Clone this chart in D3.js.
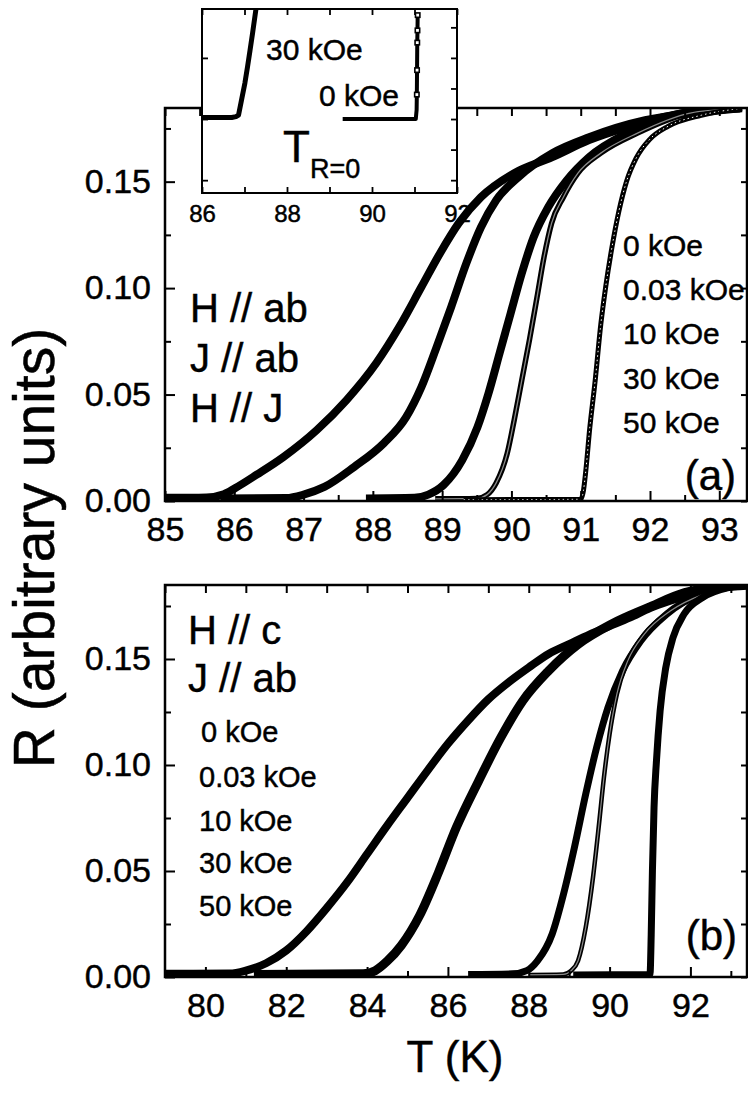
<!DOCTYPE html>
<html><head><meta charset="utf-8">
<script src="https://cdn.jsdelivr.net/npm/d3@7"></script>
<style>
html,body{margin:0;padding:0;background:#fff;}
svg{display:block;font-family:"Liberation Sans",Arial,Helvetica,sans-serif;}
</style></head><body>
<svg id="fig" width="748" height="1094"></svg>
<script>
// ---- Panel (a): H // ab, J // ab, H // J  — [T (K), R]
const fieldLabels = ["0 kOe", "0.03 kOe", "10 kOe", "30 kOe", "50 kOe"];

const a50 = [[85.0,0.0015],[85.6,0.0017],[85.85,0.0032],[86.01,0.0060],[86.33,0.0125],[86.71,0.0207],[87.19,0.0333],[87.62,0.0474],[88.05,0.0648],[88.38,0.0817],[88.70,0.1005],[88.97,0.1164],[89.24,0.1305],[89.56,0.1427],[90.04,0.1540],[90.59,0.1615],[91.12,0.1695],[91.67,0.1756],[92.47,0.1822],[93.33,0.1845]];
const a30 = [[85.8,0.0012],[86.75,0.0014],[87.0,0.0030],[87.30,0.0066],[87.73,0.0160],[88.16,0.0272],[88.48,0.0394],[88.70,0.0535],[88.92,0.0723],[89.13,0.0911],[89.35,0.1117],[89.56,0.1286],[89.78,0.1413],[90.10,0.1521],[90.59,0.1634],[91.12,0.1709],[91.93,0.1789],[92.74,0.1826],[93.3,0.1845]];
const a10 = [[87.9,0.0012],[88.6,0.0015],[88.8,0.0030],[89.02,0.0075],[89.29,0.0192],[89.51,0.0347],[89.67,0.0507],[89.83,0.0695],[89.99,0.0883],[90.15,0.1070],[90.32,0.1239],[90.53,0.1380],[90.80,0.1507],[91.12,0.1615],[91.67,0.1728],[92.47,0.1822],[93.3,0.1845]];
const a003 = [[88.9,0.0010],[89.5,0.0012],[89.65,0.0030],[89.78,0.0085],[89.94,0.0225],[90.04,0.0380],[90.15,0.0568],[90.26,0.0756],[90.37,0.0958],[90.47,0.1145],[90.58,0.1305],[90.75,0.1427],[90.96,0.1540],[91.29,0.1634],[91.82,0.1728],[92.58,0.1822],[93.3,0.1845]];
const a0 = [[89.31,0.0006],[91.0,0.0008],[91.04,0.0050],[91.07,0.0131],[91.13,0.0340],[91.21,0.0570],[91.29,0.0830],[91.36,0.1005],[91.45,0.1190],[91.55,0.1360],[91.66,0.1500],[91.80,0.1610],[92.0,0.1700],[92.26,0.1760],[92.74,0.1812],[93.33,0.1845]];

// ---- Panel (b): H // c, J // ab
const b50 = [[79.0,0.0015],[80.6,0.0016],[81.0,0.0030],[81.5,0.0065],[82.0,0.0125],[82.5,0.0215],[83.0,0.0325],[83.5,0.0445],[84.0,0.0580],[84.5,0.0715],[85.0,0.0845],[85.5,0.0975],[86.0,0.1100],[86.5,0.1210],[87.0,0.1310],[87.5,0.1390],[88.0,0.1460],[88.5,0.1525],[89.0,0.1570],[89.5,0.1615],[90.0,0.1655],[90.5,0.1695],[91.0,0.1740],[91.5,0.1775],[92.0,0.1805],[92.5,0.1828],[93.0,0.1842],[93.4,0.1848]];
const b30 = [[81.2,0.0012],[83.9,0.0015],[84.2,0.0030],[84.5,0.0075],[84.85,0.0150],[85.30,0.0290],[85.76,0.0490],[86.21,0.0706],[86.76,0.0925],[87.31,0.1130],[87.85,0.1302],[88.49,0.1444],[89.22,0.1569],[90.04,0.1664],[90.95,0.1742],[91.86,0.1813],[92.8,0.1840],[93.4,0.1848]];
const b10 = [[86.5,0.0012],[87.6,0.0015],[87.95,0.0030],[88.22,0.0077],[88.58,0.0203],[88.86,0.0391],[89.13,0.0611],[89.41,0.0863],[89.68,0.1083],[89.96,0.1271],[90.32,0.1444],[90.77,0.1585],[91.41,0.1711],[92.23,0.1805],[93.0,0.1842],[93.4,0.1848]];
const b003 = [[88.0,0.0010],[88.85,0.0012],[89.05,0.0030],[89.22,0.0077],[89.41,0.0234],[89.59,0.0470],[89.73,0.0706],[89.86,0.0941],[90.00,0.1145],[90.18,0.1334],[90.45,0.1491],[90.86,0.1617],[91.50,0.1726],[92.32,0.1805],[93.0,0.1840],[93.4,0.1848]];
const b0 = [[89.1,0.0010],[91.0,0.0012],[91.03,0.0200],[91.06,0.0500],[91.10,0.0800],[91.16,0.1020],[91.25,0.1255],[91.39,0.1459],[91.57,0.1601],[91.84,0.1711],[92.30,0.1790],[92.94,0.1837],[93.4,0.1848]];

// ---- Inset: onset of zero resistance, T_R=0
const inset30 = [[85.9,0.00005],[86.70,0.00005],[86.80,0.00008],[86.86,0.00013],[86.93,0.00062],[87.01,0.00118],[87.07,0.00170],[87.13,0.00225],[87.19,0.00281],[87.29,0.00380]];
const inset0 = [[89.31,0.0],[91.03,0.0],[91.05,0.0003],[91.055,0.0008],[91.06,0.0016],[91.065,0.0025],[91.07,0.0029],[91.075,0.0034]];

// ---- Tick values
const aXTicks = [85,86,87,88,89,90,91,92,93];
const aXMinor = [85.5,86.5,87.5,88.5,89.5,90.5,91.5,92.5];
const bXTicks = [80,82,84,86,88,90,92];
const bXMinor = [79,81,83,85,87,89,91,93];
const yTicks = [0.00,0.05,0.10,0.15];
const yMinor = [0.025,0.075,0.125,0.175];
const insetXTicks = [86,88,90,92];
const insetXMinor = [87,89,91];

const svg = d3.select("#fig");
svg.append("rect").attr("width",748).attr("height",1094).attr("fill","#fff");

function panel(cfg){
  const g = svg.append("g");
  const x = d3.scaleLinear().domain(cfg.xDomain).range([cfg.left, cfg.right]);
  const y = d3.scaleLinear().domain(cfg.yDomain).range([cfg.bottom, cfg.top]);
  const id = "clip" + cfg.name;
  svg.append("clipPath").attr("id", id).append("rect")
    .attr("x", cfg.left).attr("y", cfg.top)
    .attr("width", cfg.right - cfg.left).attr("height", cfg.bottom - cfg.top);

  if (cfg.fill) g.append("rect").attr("x",cfg.left).attr("y",cfg.top)
      .attr("width",cfg.right-cfg.left).attr("height",cfg.bottom-cfg.top).attr("fill","#fff");

  const plot = g.append("g").attr("clip-path", `url(#${id})`);
  const line = d3.line().x(d=>x(d[0])).y(d=>y(d[1]));
  cfg.series.forEach(s=>{
    line.curve(s.curve || d3.curveMonotoneX);
    plot.append("path").datum(s.data).attr("d", line)
      .attr("fill","none").attr("stroke","#000").attr("stroke-width", s.w)
      .attr("stroke-linejoin","round");
    if (s.inner) {
      plot.append("path").datum(s.data).attr("d", line)
        .attr("fill","none").attr("stroke", s.inner).attr("stroke-width", s.innerW || 1.3)
        .attr("stroke-dasharray", s.dash || null);
    }
    if (s.squares) {
      plot.selectAll(null).data(s.data.filter(d=>d[1] > s.squares)).enter().append("rect")
        .attr("x", d=>x(d[0])-2.2).attr("y", d=>y(d[1])-2.2)
        .attr("width",4.4).attr("height",4.4)
        .attr("fill","#fff").attr("stroke","#000").attr("stroke-width",1.6);
    }
  });

  const fs = cfg.tickFont;
  const style = sel => { sel.select(".domain").remove();
    sel.selectAll("line").attr("stroke","#000").attr("stroke-width", cfg.tickW);
    sel.selectAll("text").attr("font-size", fs).attr("fill","#000")
       .attr("stroke","#000").attr("stroke-width",0.45)
       .attr("font-family",'"Liberation Sans",Arial,sans-serif'); };

  // bottom
  g.append("g").attr("transform",`translate(0,${cfg.bottom})`)
    .call(d3.axisBottom(x).tickValues(cfg.xTicks).tickSize(-cfg.major).tickPadding(cfg.xPad)
      .tickFormat(cfg.xFormat)).call(style);
  g.append("g").attr("transform",`translate(0,${cfg.bottom})`)
    .call(d3.axisBottom(x).tickValues(cfg.xMinor).tickSize(-cfg.minor).tickFormat("")).call(style);
  // top
  g.append("g").attr("transform",`translate(0,${cfg.top})`)
    .call(d3.axisTop(x).tickValues(cfg.xTicks.concat(cfg.xMinor)).tickSize(-cfg.topTick).tickFormat("")).call(style);
  // left
  g.append("g").attr("transform",`translate(${cfg.left},0)`)
    .call(d3.axisLeft(y).tickValues(cfg.yTicks).tickSize(-cfg.major).tickPadding(cfg.yPad)
      .tickFormat(cfg.yFormat)).call(style);
  g.append("g").attr("transform",`translate(${cfg.left},0)`)
    .call(d3.axisLeft(y).tickValues(cfg.yMinor).tickSize(-cfg.minor).tickFormat("")).call(style);
  // right
  g.append("g").attr("transform",`translate(${cfg.right},0)`)
    .call(d3.axisRight(y).tickValues(cfg.yRight).tickSize(-cfg.minor).tickFormat("")).call(style);

  g.append("rect").attr("x",cfg.left).attr("y",cfg.top)
    .attr("width",cfg.right-cfg.left).attr("height",cfg.bottom-cfg.top)
    .attr("fill","none").attr("stroke","#000").attr("stroke-width",cfg.frameW);
  return {g,x,y};
}

const fmt2 = d3.format(".2f");

// Panel (a)
panel({
  name:"a", left:165, right:747, top:108, bottom:501,
  xDomain:[85,93.4], yDomain:[0,0.1846],
  xTicks:aXTicks, xMinor:aXMinor, yTicks:yTicks, yMinor:yMinor, yRight:yTicks.concat(yMinor),
  xFormat:d3.format("d"), yFormat:fmt2, xPad:16, yPad:14,
  major:10, minor:6, topTick:8, tickFont:34, tickW:2, frameW:2.5,
  series:[
    {data:a50, w:8}, {data:a30, w:8}, {data:a10, w:8},
    {data:a003, w:5.5, inner:"#8a8a8a", innerW:1.3},
    {data:a0, w:5, inner:"#fff", innerW:1, dash:"1.5,3"}
  ]
});

// Panel (b)
panel({
  name:"b", left:165, right:747, top:585, bottom:977,
  xDomain:[79,93.4], yDomain:[0,0.1849],
  xTicks:bXTicks, xMinor:bXMinor, yTicks:yTicks, yMinor:yMinor, yRight:yTicks.concat(yMinor),
  xFormat:d3.format("d"), yFormat:fmt2, xPad:16, yPad:14,
  major:10, minor:6, topTick:8, tickFont:34, tickW:2, frameW:2.5,
  series:[
    {data:b50, w:8}, {data:b30, w:9}, {data:b10, w:7},
    {data:b003, w:4.5, inner:"#8a8a8a", innerW:1.2},
    {data:b0, w:7}
  ]
});

// Inset over panel (a)
panel({
  name:"i", left:202, right:457, top:9, bottom:193, fill:true,
  xDomain:[86,92], yDomain:[-0.00242,0.0036],
  xTicks:insetXTicks, xMinor:insetXMinor, yTicks:[-0.002,0,0.002], yMinor:[], yRight:[-0.002,-0.001,0,0.001,0.002,0.003],
  xFormat:d3.format("d"), yFormat:()=>"", xPad:12, yPad:4,
  major:6, minor:6, topTick:6, tickFont:24, tickW:1.8, frameW:2,
  series:[
    {data:inset30, w:5, curve:d3.curveLinear},
    {data:inset0, w:4, curve:d3.curveLinear, squares:0.0005}
  ]
});

// ---- Text annotations
const T = (x,y,s,fs,anchor)=>svg.append("text").attr("x",x).attr("y",y).attr("font-size",fs)
   .attr("text-anchor",anchor||"start").attr("fill","#000")
   .attr("stroke","#000").attr("stroke-width",0.45).text(s);

// panel (a)
T(190,322,"H // ab",40); T(190,372,"J // ab",40); T(190,422,"H // J",40);
const aLegY = [256,300,344,389,433];
fieldLabels.forEach((s,i)=>T(623,aLegY[i],s,30));
T(736,490,"(a)",42,"end");

// panel (b)
T(188,644,"H // c",40); T(188,692,"J // ab",40);
const bLegY = [742,787,831,873,916];
fieldLabels.forEach((s,i)=>T(i===0?201:199,bLegY[i],s,29));
T(737,950,"(b)",42,"end");

// inset
T(266,60,"30 kOe",30); T(319,106,"0 kOe",30);
const tr = svg.append("text").attr("x",283).attr("y",162).attr("font-size",44).attr("fill","#000")
  .attr("stroke","#000").attr("stroke-width",0.45);
tr.append("tspan").text("T");
tr.append("tspan").attr("font-size",27).attr("dy",16).text("R=0");

// axis titles
T(455,1072,"T (K)",44,"middle");
svg.append("text").attr("transform","translate(54,548) rotate(-90)")
  .attr("text-anchor","middle").attr("font-size",57).attr("fill","#000")
  .attr("stroke","#000").attr("stroke-width",0.5).text("R (arbitrary units)");
</script>
</body></html>
